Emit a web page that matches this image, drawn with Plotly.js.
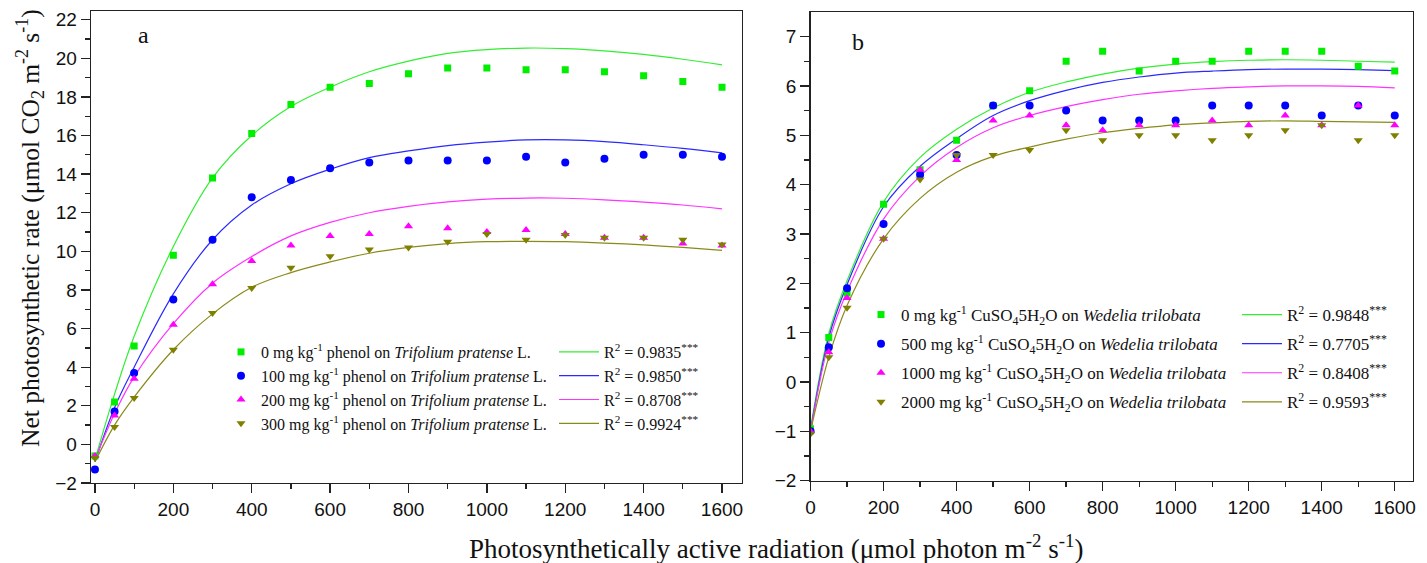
<!DOCTYPE html>
<html>
<head>
<meta charset="utf-8">
<script src="https://cdn.plot.ly/plotly-3.0.1.min.js"></script>
<style>html,body{margin:0;padding:0;background:#fff;}#chart{width:1427px;height:563px;}</style>
</head>
<body>
<div id="chart"></div>
<script>
// ---------- Data ----------
var parX = [0,50,100,200,300,400,500,600,700,800,900,1000,1100,1200,1300,1400,1500,1600];

// Panel a: Trifolium pratense, phenol treatments (measured)
var a0 = [-0.6,2.2,5.1,9.8,13.8,16.1,17.6,18.5,18.7,19.2,19.5,19.5,19.4,19.4,19.3,19.1,18.8,18.5];
var a100 = [-1.3,1.7,3.7,7.5,10.6,12.8,13.7,14.3,14.6,14.7,14.7,14.7,14.9,14.6,14.8,15.0,15.0,14.9];
var a200 = [-0.6,1.5,3.4,6.2,8.3,9.5,10.3,10.8,10.9,11.3,11.2,11.0,11.1,10.9,10.7,10.7,10.4,10.3];
var a300 = [-0.7,0.9,2.4,4.9,6.8,8.1,9.15,9.75,10.1,10.2,10.5,10.9,10.6,10.85,10.7,10.7,10.6,10.35];
// Panel a fitted curves
var a0Fit = [-0.8,2.6,5.6,10.25,13.8,16.0,17.5,18.5,19.3,19.85,20.25,20.45,20.53,20.5,20.38,20.2,19.95,19.66];
var a100Fit = [-0.9,1.9,4.0,7.8,10.6,12.4,13.5,14.25,14.85,15.2,15.48,15.66,15.77,15.77,15.68,15.52,15.33,15.1];
var a200Fit = [-0.8,1.6,3.5,6.25,8.35,9.73,10.8,11.5,12.0,12.33,12.56,12.7,12.76,12.75,12.67,12.55,12.4,12.2];
var a300Fit = [-0.9,1.0,2.45,4.9,6.76,8.14,8.9,9.45,9.9,10.2,10.4,10.5,10.52,10.5,10.43,10.33,10.2,10.05];

// Panel b: Wedelia trilobata, CuSO4·5H2O treatments (measured)
var b0 = [-0.95,0.9,1.8,3.6,4.3,4.9,5.6,5.9,6.5,6.7,6.3,6.5,6.5,6.7,6.7,6.7,6.4,6.3];
var b500 = [-1.0,0.7,1.9,3.2,4.2,4.6,5.6,5.6,5.5,5.3,5.3,5.3,5.6,5.6,5.6,5.4,5.6,5.4];
var b1000 = [-1.0,0.6,1.7,2.9,4.3,4.5,5.3,5.4,5.2,5.1,5.2,5.2,5.3,5.2,5.4,5.2,5.6,5.2];
var b2000 = [-1.05,0.5,1.5,2.9,4.1,4.6,4.6,4.7,5.1,4.9,5.0,5.0,4.9,5.0,5.1,5.2,4.9,5.0];
// Panel b fitted curves
var b0Fit = [-0.95,0.98,2.05,3.65,4.55,5.12,5.55,5.87,6.08,6.24,6.36,6.44,6.49,6.52,6.53,6.52,6.5,6.48];
var b500Fit = [-1.0,0.9,1.97,3.55,4.37,4.93,5.4,5.7,5.91,6.07,6.18,6.26,6.3,6.33,6.34,6.34,6.33,6.31];
var b1000Fit = [-1.0,0.8,1.83,3.3,4.17,4.75,5.15,5.4,5.58,5.72,5.83,5.9,5.95,5.98,6.0,6.0,5.99,5.96];
var b2000Fit = [-1.0,0.5,1.55,2.9,3.72,4.25,4.57,4.76,4.92,5.05,5.14,5.21,5.25,5.28,5.29,5.28,5.27,5.26];

var aLabels = ["0 mg kg<sup>-1</sup> phenol on <i>Trifolium pratense</i> L.",
               "100 mg kg<sup>-1</sup> phenol on <i>Trifolium pratense</i> L.",
               "200 mg kg<sup>-1</sup> phenol on <i>Trifolium pratense</i> L.",
               "300 mg kg<sup>-1</sup> phenol on <i>Trifolium pratense</i> L."];
var aR2 = ["0.9835","0.9850","0.8708","0.9924"];
var bLabels = ["0 mg kg<sup>-1</sup> CuSO<sub>4</sub>5H<sub>2</sub>O on <i>Wedelia trilobata</i>",
               "500 mg kg<sup>-1</sup> CuSO<sub>4</sub>5H<sub>2</sub>O on <i>Wedelia trilobata</i>",
               "1000 mg kg<sup>-1</sup> CuSO<sub>4</sub>5H<sub>2</sub>O on <i>Wedelia trilobata</i>",
               "2000 mg kg<sup>-1</sup> CuSO<sub>4</sub>5H<sub>2</sub>O on <i>Wedelia trilobata</i>"];
var bR2 = ["0.9848","0.7705","0.8408","0.9593"];

var xTicks = [0,200,400,600,800,1000,1200,1400,1600];

// ---------- Styles ----------
var colors = ["#00ee00","#0000ff","#ff00ff","#808000"];
var lineColors = ["#33ee33","#2a2aff","#ff33ff","#8a8a1a"];
var symbols = ["square","circle","triangle-up","triangle-down"];
var sizes = [7,8,8,8];

var traces = [];
function addPanel(meas, fits, labels, r2, xa, ya, legM, legL) {
  for (var i = 0; i < 4; i++) {
    traces.push({
      x: parX, y: fits[i], xaxis: xa, yaxis: ya, type: 'scatter', mode: 'lines',
      line: {color: lineColors[i], width: 1.2, shape: 'spline', smoothing: 1},
      name: 'R<sup>2</sup> = ' + r2[i] + '<sup>***</sup>', legend: legL,
      legendgroup: legL + '_' + i, hoverinfo: 'skip'
    });
  }
  for (var j = 0; j < 4; j++) {
    traces.push({
      x: parX, y: meas[j], xaxis: xa, yaxis: ya, type: 'scatter', mode: 'markers',
      marker: {color: colors[j], symbol: symbols[j], size: sizes[j], line: {width: 0}},
      name: labels[j], legend: legM, legendgroup: legM + '_' + j, hoverinfo: 'skip'
    });
  }
}
addPanel([a0,a100,a200,a300],[a0Fit,a100Fit,a200Fit,a300Fit],aLabels,aR2,'x','y','legend','legend2');
addPanel([b0,b500,b1000,b2000],[b0Fit,b500Fit,b1000Fit,b2000Fit],bLabels,bR2,'x2','y2','legend3','legend4');

var tickFont = {family: 'Liberation Sans, Arial, sans-serif', size: 19, color: '#111'};
var serif = 'Liberation Serif, Times New Roman, serif';
function xAxis(dom, anchor) {
  return {domain: dom, anchor: anchor, range: [-10, 1650], tickmode: 'array', tickvals: xTicks,
    ticks: 'outside', ticklen: 9, tickwidth: 1.3, tickcolor: '#222',
    minor: {dtick: 100, tick0: 0, ticks: 'outside', ticklen: 5, tickwidth: 1.3, tickcolor: '#222', showgrid: false},
    showline: true, linecolor: '#222', linewidth: 1.4, mirror: true, showgrid: false, zeroline: false,
    tickfont: tickFont, fixedrange: true};
}
function legendBox(x, yTop, size, gap, iw) {
  var o = {x: x, y: yTop, xanchor: 'left', yanchor: 'top', bgcolor: 'rgba(0,0,0,0)',
    font: {family: serif, size: size, color: '#111'}, traceorder: 'grouped', tracegroupgap: gap};
  if (iw) o.itemwidth = iw;
  return o;
}
var layout = {
  width: 1427, height: 563,
  margin: {l: 0, r: 0, t: 0, b: 0},
  paper_bgcolor: '#fff', plot_bgcolor: '#fff',
  showlegend: true, hovermode: false,
  xaxis: xAxis([0.0638, 0.5197], 'y'),
  xaxis2: Object.assign(xAxis([0.568, 0.9902], 'y2'), {range: [0, 1650]}),
  yaxis: {domain: [0.1421, 0.9805], anchor: 'x', range: [-2, 22.45], tickmode: 'linear', tick0: 0, dtick: 2,
    ticks: 'outside', ticklen: 9, tickwidth: 1.3, tickcolor: '#222',
    minor: {dtick: 1, tick0: 0, ticks: 'outside', ticklen: 5, tickwidth: 1.3, tickcolor: '#222', showgrid: false},
    showline: true, linecolor: '#222', linewidth: 1.4, mirror: true, showgrid: false, zeroline: false,
    tickfont: tickFont, fixedrange: true},
  yaxis2: {domain: [0.1465, 0.978], anchor: 'x2', range: [-2, 7.49], tickmode: 'linear', tick0: 0, dtick: 1,
    ticks: 'outside', ticklen: 9, tickwidth: 1.3, tickcolor: '#222',
    minor: {dtick: 0.5, tick0: 0, ticks: 'outside', ticklen: 5, tickwidth: 1.3, tickcolor: '#222', showgrid: false},
    showline: true, linecolor: '#222', linewidth: 1.4, mirror: true, showgrid: false, zeroline: false,
    tickfont: tickFont, fixedrange: true},
  legend: legendBox(221/1427, 1 - 335/563, 16, 0),
  legend2: legendBox(554/1427, 1 - 335/563, 16, 0, 40),
  legend3: legendBox(861/1427, 1 - 297/563, 17, 4),
  legend4: legendBox(1237/1427, 1 - 297/563, 17, 4, 40),
  annotations: [
    {text: 'a', xref: 'paper', yref: 'paper', x: 143/1427, y: 1 - 35/563, xanchor: 'center', yanchor: 'middle',
      showarrow: false, font: {family: serif, size: 24, color: '#111'}},
    {text: 'b', xref: 'paper', yref: 'paper', x: 858/1427, y: 1 - 42/563, xanchor: 'center', yanchor: 'middle',
      showarrow: false, font: {family: serif, size: 24, color: '#111'}},
    {text: 'Net photosynthetic rate (μmol CO<sub>2</sub> m<sup>-2</sup> s<sup>-1</sup>)', xref: 'paper', yref: 'paper',
      x: 30/1427, y: 1 - 228/563, xanchor: 'center', yanchor: 'middle', textangle: -90, showarrow: false,
      font: {family: serif, size: 25.5, color: '#111'}},
    {text: 'Photosynthetically active radiation (μmol photon m<sup>-2</sup> s<sup>-1</sup>)', xref: 'paper', yref: 'paper',
      x: 776/1427, y: 1 - 547/563, xanchor: 'center', yanchor: 'middle', showarrow: false,
      font: {family: serif, size: 27, color: '#111'}}
  ]
};
Plotly.newPlot('chart', traces, layout, {staticPlot: true, displayModeBar: false});
</script>
</body>
</html>
